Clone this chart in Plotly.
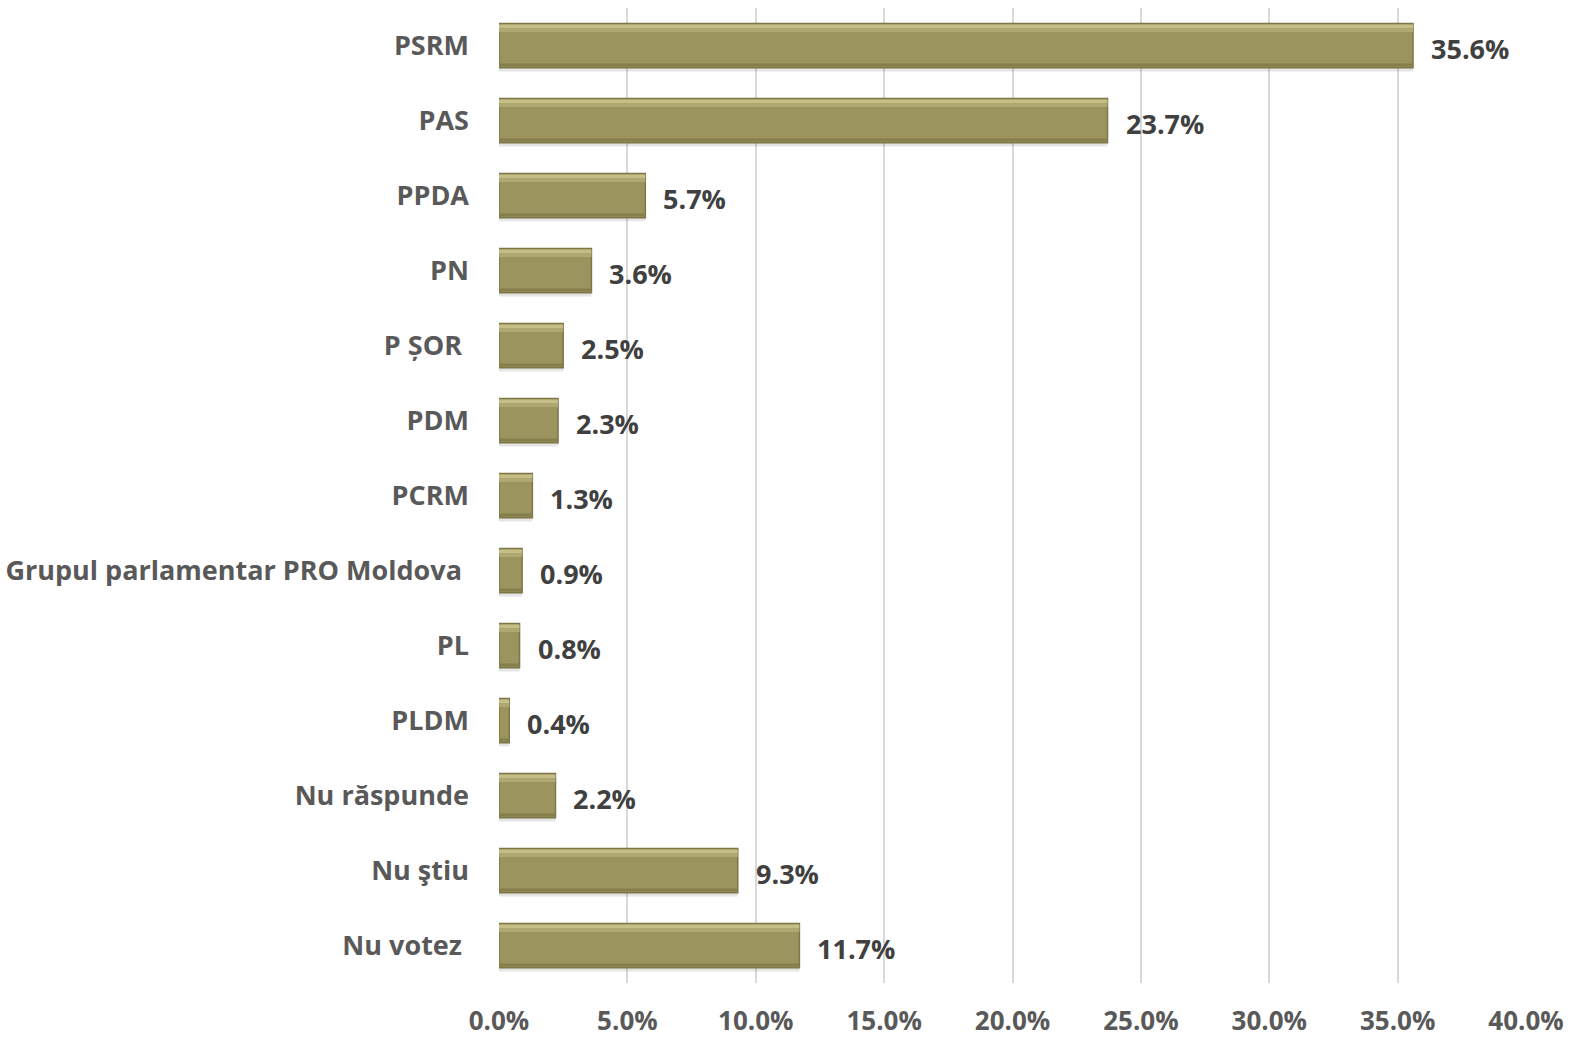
import plotly.graph_objects as go

categories = ["PSRM", "PAS", "PPDA", "PN", "P ȘOR\u00a0", "PDM", "PCRM",
              "Grupul parlamentar PRO Moldova\u00a0", "PL", "PLDM", "Nu răspunde",
              "Nu ştiu", "Nu votez\u00a0"]
values = [35.6, 23.7, 5.7, 3.6, 2.5, 2.3, 1.3, 0.9, 0.8, 0.4, 2.2, 9.3, 11.7]
labels = [f"{v:.1f}%" for v in values]
ticks = [0, 5, 10, 15, 20, 25, 30, 35, 40]
tick_text = [f"{t:.1f}%" for t in ticks]

FONT = "Open Sans"
W = 0.59
fig = go.Figure()
# soft shadow
fig.add_trace(go.Bar(
    y=categories, x=values, orientation="h", width=W, offset=-W / 2 + 0.05,
    marker=dict(color="rgba(0,0,0,0.10)", line=dict(width=0)),
    hoverinfo="skip", showlegend=False))
# main bar
fig.add_trace(go.Bar(
    y=categories, x=values, orientation="h", width=W, offset=-W / 2,
    marker=dict(color="#9c945e", line=dict(color="#7d7646", width=1.5)),
    hoverinfo="skip", showlegend=False))
# top highlight (bevel)
fig.add_trace(go.Bar(
    y=categories, x=values, orientation="h", width=0.05, offset=-W / 2 + 0.015,
    marker=dict(color="#c6be87", line=dict(width=0)),
    hoverinfo="skip", showlegend=False))
fig.add_trace(go.Bar(
    y=categories, x=values, orientation="h", width=0.05, offset=-W / 2 + 0.065,
    marker=dict(color="#b0a872", line=dict(width=0)),
    hoverinfo="skip", showlegend=False))
# bottom shade (bevel)
fig.add_trace(go.Bar(
    y=categories, x=values, orientation="h", width=0.04, offset=W / 2 - 0.055,
    marker=dict(color="#857e4c", line=dict(width=0)),
    hoverinfo="skip", showlegend=False))

for c, v, t in zip(categories, values, labels):
    fig.add_annotation(x=v, y=c, text=t, showarrow=False, xanchor="left",
                       xshift=16, yshift=-3,
                       font=dict(family=FONT, size=27, color="#404040", weight="bold"))

fig.update_layout(
    width=1575, height=1038, barmode="overlay",
    margin=dict(l=499, r=49, t=8, b=55),
    paper_bgcolor="white", plot_bgcolor="white",
    font=dict(family=FONT),
    xaxis=dict(range=[0, 40], tickvals=ticks, ticktext=tick_text,
               showgrid=True, gridcolor="#d9d9d9", gridwidth=2,
               zeroline=False, showline=False, ticks="", automargin=False,
               ticklabelstandoff=20,
               tickfont=dict(family=FONT, size=26, color="#595959", weight="bold")),
    yaxis=dict(autorange="reversed", showgrid=False, showline=False, ticks="",
               automargin=False, ticklabelstandoff=29,
               tickfont=dict(family=FONT, size=27, color="#595959", weight="bold")),
)
fig.write_html("out.html", config={"displayModeBar": False},
               post_script="document.body.style.margin='0';document.body.style.overflow='hidden';")
